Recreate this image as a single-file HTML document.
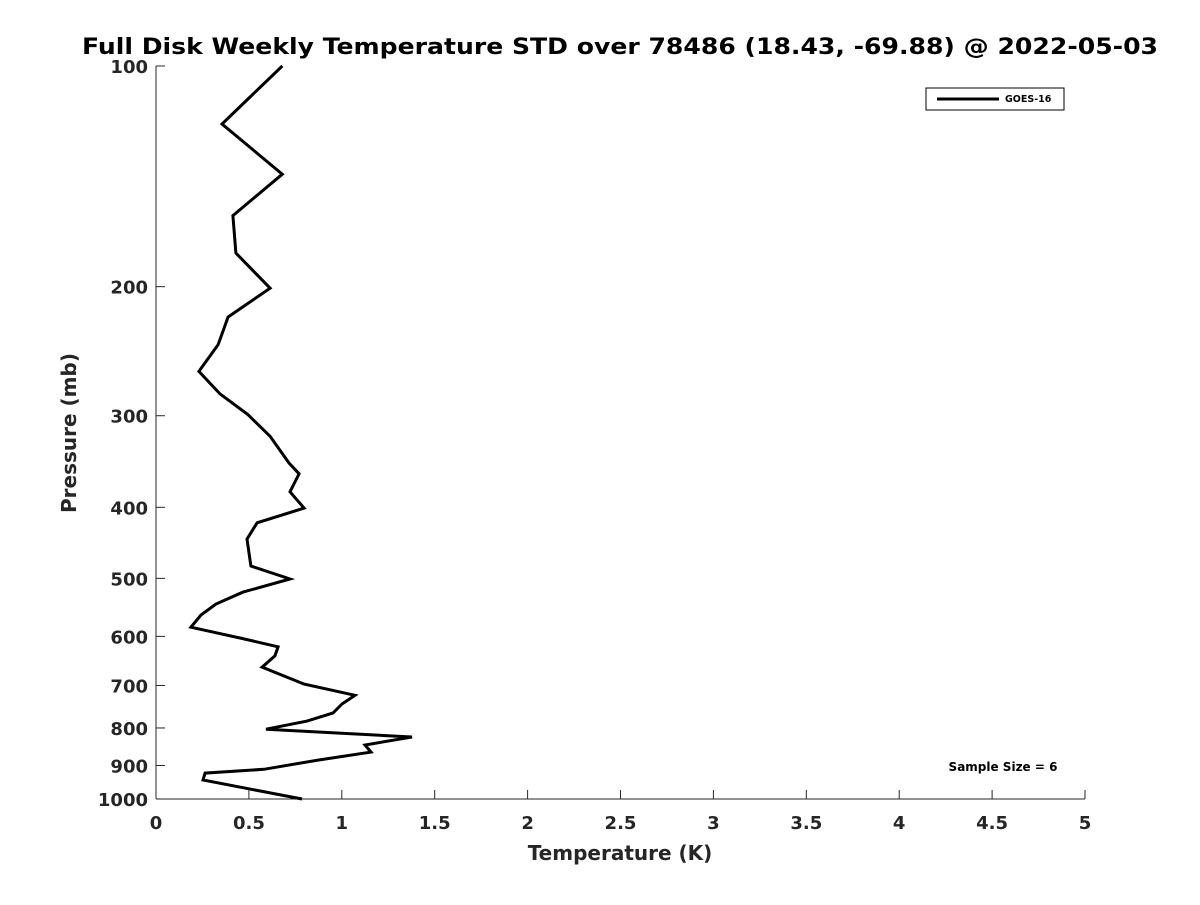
<!DOCTYPE html>
<html><head><meta charset="utf-8"><style>
body{margin:0;background:#fff;}
svg{font-family:"DejaVu Sans","Liberation Sans",sans-serif;}
</style></head><body>
<svg id="chart" width="1200" height="900" viewBox="0 0 1200 900">
<rect width="1200" height="900" fill="#fff"/>
<text x="620" y="54" text-anchor="middle" font-size="22" font-weight="bold" fill="#000" textLength="1076" lengthAdjust="spacingAndGlyphs">Full Disk Weekly Temperature STD over 78486 (18.43, -69.88) @ 2022-05-03</text>
<g id="axes"></g>
<path id="line" fill="none" stroke="#000" stroke-width="3" stroke-linejoin="miter"/>
<g>
<rect x="926" y="88" width="138" height="22" fill="#fff" stroke="#000" stroke-width="1"/>
<line x1="937" y1="99" x2="999" y2="99" stroke="#000" stroke-width="3"/>
<text x="1005" y="102" font-size="9.5" font-weight="bold" fill="#000">GOES-16</text>
</g>
<text x="1003" y="771" text-anchor="middle" font-size="12" font-weight="bold" fill="#000">Sample Size = 6</text>
<text x="620" y="860" text-anchor="middle" font-size="20" font-weight="bold" fill="#262626">Temperature (K)</text>
<text transform="translate(76,433) rotate(-90)" text-anchor="middle" font-size="20" font-weight="bold" fill="#262626">Pressure (mb)</text>
</svg>
<script>
const temps=[0.68,0.355,0.68,0.414,0.43,0.614,0.388,0.334,0.231,0.344,0.495,0.614,0.716,0.77,0.721,0.797,0.544,0.49,0.511,0.721,0.468,0.323,0.242,0.188,0.452,0.657,0.64,0.571,0.797,1.071,1.001,0.953,0.813,0.592,1.378,1.125,1.157,0.872,0.581,0.264,0.253,0.786];
const pressures=[100,120,140.5,160,180,201,220,240,261,280,299,320,348,360,381,401,420,442,481,501,522,542,561,583,603,620,638,661,697,722,742,763,783,803,823,844,863,885,911,922,942,1000];
const xTicks=[0,0.5,1,1.5,2,2.5,3,3.5,4,4.5,5];
const xTickLabels=["0","0.5","1","1.5","2","2.5","3","3.5","4","4.5","5"];
const yTicks=[100,200,300,400,500,600,700,800,900,1000];
const X0=156,X1=1085,Y0=66,Y1=799;
function xs(v){return X0+(v-0)/(5-0)*(X1-X0);}
function ys(p){return Y0+(Math.log10(p)-2)/(3-2)*(Y1-Y0);}
const NS="http://www.w3.org/2000/svg";
const ax=document.getElementById('axes');
function mk(t,a){const e=document.createElementNS(NS,t);for(const k in a)e.setAttribute(k,a[k]);ax.appendChild(e);return e;}
const xl=mk('line',{x1:X0,y1:Y1,x2:X1,y2:Y1,stroke:'#262626','stroke-width':1});


const yl=mk('line',{x1:X0,y1:Y0,x2:X0,y2:Y1,stroke:'#262626','stroke-width':1});


xTicks.forEach((v,i)=>{
 const x=xs(v);
 const t=mk('line',{x1:x,y1:Y1,x2:x,y2:Y1-9,stroke:'#262626','stroke-width':1});
 
 
 const l=mk('text',{x:x,y:Y1+30,'text-anchor':'middle','font-size':18,'font-weight':'bold',fill:'#262626'});
 l.textContent=xTickLabels[i];
 
 
});
yTicks.forEach(p=>{
 const y=ys(p);
 const t=mk('line',{x1:X0,y1:y,x2:X0+9,y2:y,stroke:'#262626','stroke-width':1});
 
 
 const l=mk('text',{x:X0-8,y:y+7,'text-anchor':'end','font-size':18,'font-weight':'bold',fill:'#262626'});
 l.textContent=String(p);
 
 
});
document.getElementById('line').setAttribute('d',temps.map((t,i)=>(i?'L':'M')+xs(t).toFixed(1)+' '+ys(pressures[i]).toFixed(1)).join(' '));
</script>
</body></html>
